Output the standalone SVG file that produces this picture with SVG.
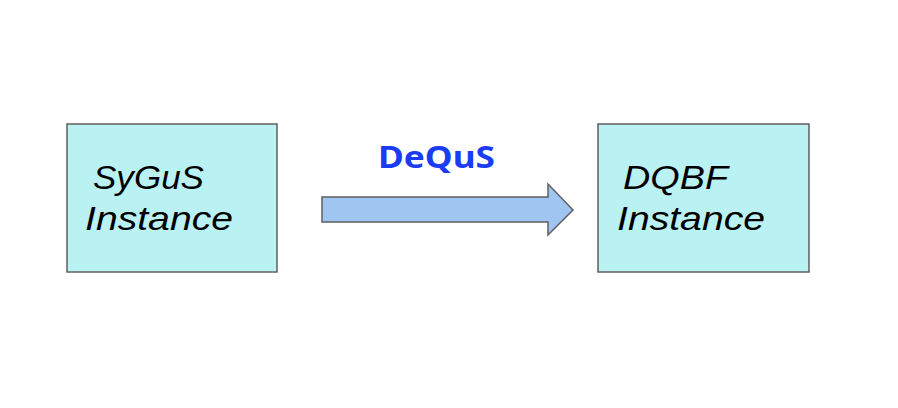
<svg xmlns="http://www.w3.org/2000/svg" width="898" height="408" viewBox="0 0 898 408">
<style>
.box{fill:#baf2f3;stroke:#5f5f5f;stroke-width:1.5}
.t{font-family:"Liberation Sans",Arial,sans-serif;font-style:italic;font-size:34px;fill:#000}
.lbl{font-family:"Noto Sans","Liberation Sans",sans-serif;font-weight:bold;font-size:31px;fill:#1a3cf5}
</style>
<rect width="898" height="408" fill="#fff"/>
<g id="sygus">
<rect class="box" x="67" y="124" width="210" height="148"/>
<text class="t" x="93" y="189" textLength="111" lengthAdjust="spacingAndGlyphs">SyGuS</text>
<text class="t" x="85" y="230" textLength="148" lengthAdjust="spacingAndGlyphs">Instance</text>
</g>
<g id="dqbf">
<rect class="box" x="598" y="124" width="211" height="148"/>
<text class="t" x="623" y="189" textLength="105" lengthAdjust="spacingAndGlyphs">DQBF</text>
<text class="t" x="617" y="230" textLength="148" lengthAdjust="spacingAndGlyphs">Instance</text>
</g>
<g id="connectors">
<polygon points="322,197 548,197 548,184 573,210 548,235 548,222 322,222" fill="#9fc5f0" stroke="#5f5f5f" stroke-width="1.5"/>
<text class="lbl" x="378" y="168" textLength="117" lengthAdjust="spacingAndGlyphs">DeQuS</text>
</g>
</svg>
